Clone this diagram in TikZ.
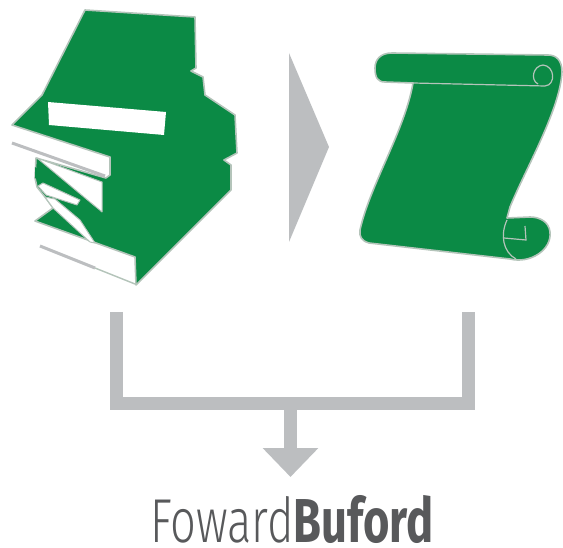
\documentclass[tikz,border=0pt]{standalone}
\usepackage{fontspec}
\usepackage{xcolor}
\usepackage{tikz}
\usetikzlibrary{arrows.meta}
\newfontfamily\titlelight[FakeStretch=0.73]{Fira Sans Light}
\newfontfamily\titlebold[FakeStretch=0.73]{Fira Sans Bold}
\definecolor{librogreen}{HTML}{0B8A45}
\definecolor{bordegris}{HTML}{B4C4BA}
\definecolor{barragris}{HTML}{BCBEC0}
\definecolor{textogris}{HTML}{58595B}

\begin{document}
\begin{tikzpicture}[x=1pt,y=-1pt,
  verde/.style={draw=bordegris,fill=librogreen,line width=1.6pt,line join=round},
  hoja/.style={draw=bordegris,fill=white,line width=1pt,line join=round},
  linea/.style={draw=bordegris,line width=1.2pt},
  barra/.style={draw=barragris,line width=13pt,line join=miter}]
  \useasboundingbox (0,0) rectangle (563,548);
  % libros
  \draw[verde] (85,10) -- (195,17) -- (196,68) -- (191,71) -- (203,77) -- (205,95)
    -- (235,115) -- (237,153) -- (224,160) -- (231,165) -- (231,190) -- (136,285)
    -- (135,257) -- (35,221) -- (53,208) -- (45,197) -- (37,187) -- (35,178)
    -- (36,158) -- (106,178) -- (110,175) -- (110,157) -- (12,125) -- (42,95) -- cycle;
  \fill[white] (48,102) -- (166,112) -- (164,135) -- (49,125) -- cycle;
  \draw[hoja] (37,158) -- (102,182) -- (102,212) -- cycle;
  \fill[librogreen] (35,167) -- (35,178) -- (100,211) -- cycle;
  \draw[hoja] (38,186) -- (43,183) -- (80,200) -- (77,205) -- (46,195) -- cycle;
  \draw[hoja] (45,197) -- (55,199) -- (80,220) -- (95,243) -- (90,242) -- (53,208) -- cycle;
  \draw[barragris,line width=3pt] (12,143) -- (105,176);
  \draw[barragris,line width=3pt] (40,246) -- (95,268);
  \draw[bordegris,line width=1.4pt] (95,268) -- (135,284);
  % flecha
  \fill[barragris] (289,53) -- (329,147) -- (289,242) -- cycle;
  % pergamino
  \draw[verde] (413,83) .. controls (405,130) and (370,185) .. (360,230)
    .. controls (359,237) and (362,241) .. (369,243) -- (510,259)
    .. controls (530,264) and (552,250) .. (550,232)
    .. controls (549,222) and (540,217) .. (530,217) -- (507,218) -- (510,207)
    .. controls (525,170) and (560,110) .. (562,72)
    .. controls (562,60) and (556,55) .. (548,55) -- (392,53)
    .. controls (380,53) and (375,60) .. (375,68)
    .. controls (375,78) and (378,82) .. (385,82) -- cycle;
  \draw[linea] (413,83) -- (545,86) .. controls (556,85) and (555,66) .. (543,65)
    .. controls (533,66) and (530,80) .. (538,84);
  \draw[linea] (507,220) .. controls (500,235) and (503,252) .. (516,259);
  \draw[linea] (504,238) -- (526,240) -- (525,226);
  % barras
  \coordinate (izq) at (116.5,312);
  \coordinate (izqbajo) at (116.5,404);
  \coordinate (der) at (468.5,312);
  \coordinate (derbajo) at (468.5,404);
  \coordinate (centro) at (290.5,404);
  \coordinate (punta) at (290.5,477);
  \draw[barra] (izq) -- (izqbajo) -- (derbajo) -- (der);
  \draw[barra,-{Triangle[width=54pt,length=29pt]}] (centro) -- (punta);
  \node[anchor=base west,inner sep=0pt,text=textogris,font=\fontsize{62}{62}\selectfont] (titulo) at (150,542.5)
    {{\titlelight Foward}{\titlebold Buford}};
\end{tikzpicture}
\end{document}
